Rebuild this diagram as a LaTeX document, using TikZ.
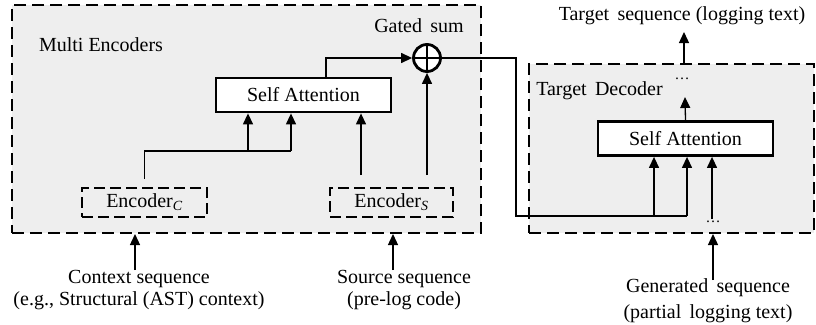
\documentclass[tikz,border=0pt]{standalone}
\usepackage{fontspec}
\setmainfont{Liberation Serif}
\usetikzlibrary{arrows.meta,calc}
\definecolor{panelgray}{RGB}{238,238,238}

\begin{document}
\begin{tikzpicture}[x=1pt,y=-1pt,
  font=\fontsize{20}{24}\selectfont,
  panel/.style={draw, dash pattern=on 12pt off 6pt, line width=2pt, fill=panelgray, inner sep=0pt},
  encbox/.style={draw, dash pattern=on 11pt off 5pt, line width=1.8pt, minimum height=29pt, inner sep=0pt},
  attn/.style={draw, line width=2.8pt, fill=white, minimum width=175pt, minimum height=34pt, inner sep=0pt},
  conn/.style={line width=1.3pt},
  arr/.style={conn, -{Triangle[length=11pt,width=10pt]}},
  lbl/.style={inner sep=0pt, align=center},
  dotsym/.style={inner sep=0pt, font=\fontsize{15}{15}\selectfont}
]
\useasboundingbox (0,0) rectangle (816,324);

% panels
\node[panel, minimum width=469pt, minimum height=228pt] (menc) at (246.5,119) {};
\node[panel, minimum width=285pt, minimum height=169pt] (tdec) at (671.5,148.5) {};

% panel titles
\node[lbl, anchor=base] (mtitle) at (101,51) {Multi Encoders};
\node[lbl, anchor=base] (dtitle) at (599.5,95) {Target\, Decoder};

% encoder side
\node[encbox, minimum width=125pt] (encC) at (144.5,202.5) {Encoder\textsubscript{\itshape C}};
\node[encbox, minimum width=123pt] (encS) at (391.5,202.5) {Encoder\textsubscript{\itshape S}};
\node[attn] (saE) at (303.5,95) {Self Attention};
\node[draw, circle, line width=2.8pt, minimum size=27pt, inner sep=0pt, fill=white] (gs) at (427,58) {};
\draw[conn] (gs.north) -- (gs.south) (gs.west) -- (gs.east);
\node[lbl, anchor=base] (gslbl) at (419,32) {Gated\, sum};

% decoder side
\node[attn] (saD) at (685.5,138.5) {Self Attention};
\node[dotsym] (dotsT) at (682,79) {\ldots};
\node[dotsym] (dotsB) at (713,222) {\ldots};

% external labels
\node[lbl, anchor=base] (tseq) at (682,20) {Target\, sequence (logging text)};
\node[lbl, font=\fontsize{20}{22}\selectfont] (cseq) at (139,290) {Context sequence\\(e.g., Structural (AST) context)};
\node[lbl, font=\fontsize{20}{22}\selectfont] (sseq) at (404,290) {Source sequence\\(pre-log code)};
\node[lbl, font=\fontsize{20}{26}\selectfont] (gseq) at (708,301) {Generated\, sequence\\(partial\, logging text)};

% context encoder feeds the attention block twice
\coordinate (cjoin) at (291,151);
\coordinate (cbr) at (248,151);
\draw[conn] ([yshift=8pt]encC.north) |- (cjoin);
\draw[arr] (cjoin) -- (cjoin |- saE.south);
\draw[arr] (cbr) -- (cbr |- saE.south);

% source encoder feeds attention and the gated sum
\coordinate (s1) at (361,175);
\coordinate (s2) at (427,175);
\draw[arr] (s1) -- (s1 |- saE.south);
\draw[arr] (s2) -- (gs.south);

% attention output into gated sum
\draw[arr] ([xshift=22.5pt]saE.north) |- (gs.west);

% gated sum routed into the decoder attention
\coordinate (r2) at (516,216);
\coordinate (djoin) at (687,216);
\coordinate (dbr) at (654,216);
\draw[conn] (gs.east) -| (r2) -- (djoin);
\draw[arr] (djoin) -- (djoin |- saD.south);
\draw[arr] (dbr) -- (dbr |- saD.south);

% generated tokens into decoder attention
\coordinate (g1) at (712,219);
\draw[arr] (g1) -- (g1 |- saD.south);

% decoder output
\coordinate (dt) at (685,97);
\draw[arr] (saD.north) -- (dt);
\coordinate (outtip) at (684,32);
\draw[arr] (outtip |- tdec.north) -- (outtip);

% inputs from below
\coordinate (cb) at (135,270);
\coordinate (sb) at (393,270);
\coordinate (gb) at (713,280);
\draw[arr] (cb) -- (cb |- menc.south);
\draw[arr] (sb) -- (sb |- menc.south);
\draw[arr] (gb) -- (gb |- tdec.south);
\end{tikzpicture}
\end{document}
